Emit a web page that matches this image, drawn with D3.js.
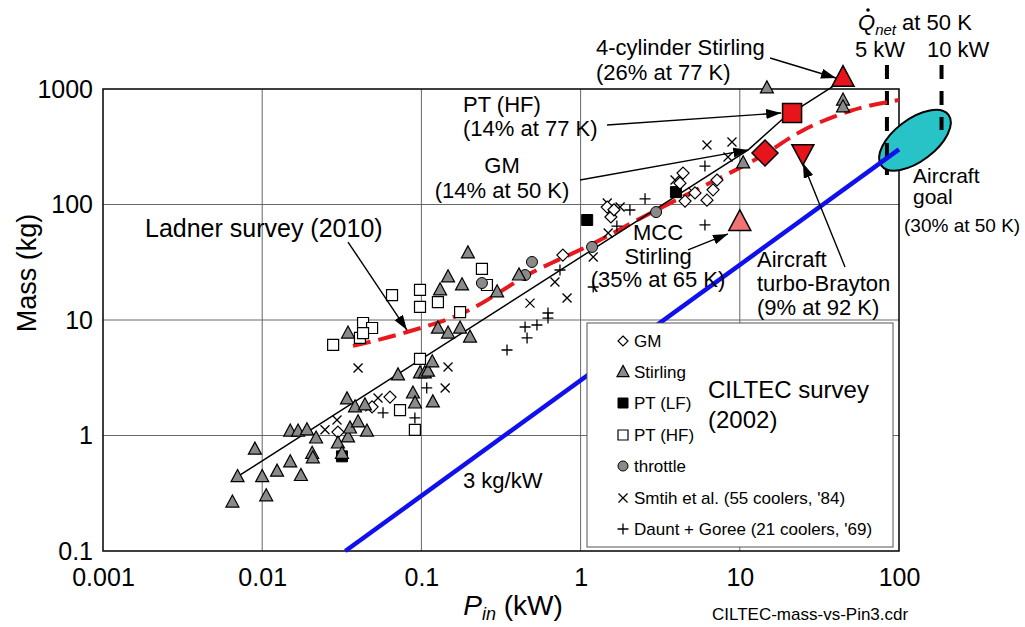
<!DOCTYPE html>
<html>
<head>
<meta charset="utf-8">
<script src="https://cdn.jsdelivr.net/npm/d3@7"></script>
<style>
body { margin: 0; background: #fff; }
svg { font-family: "Liberation Sans", Arial, sans-serif; }
</style>
</head>
<body>
<svg id="chart" width="1025" height="627"></svg>
<script>
// tick labels
var xTicks = [0.001, 0.01, 0.1, 1, 10, 100];
var yTicks = [0.1, 1, 10, 100, 1000];

// CILTEC survey (2002) points, [Pin kW, mass kg]
var gmPts = [[0.774,36.5],[1.47,95],[1.55,78],[1.62,90],[4.40,187],[4.21,153],[4.53,107],[5.23,126],
    [6.22,109],[6.79,134],[7.19,163],[0.0299,1.07],[0.049,1.77],[0.0635,2.15]];
var stirlingPts = [[0.0065,0.265],[0.0070,0.44],[0.0090,0.76],[0.0100,0.44],[0.0106,0.30],[0.0124,0.49],
    [0.0150,0.59],[0.0175,0.45],[0.0150,1.09],[0.0168,1.09],[0.0191,1.12],[0.0218,0.95],[0.0206,0.70],
    [0.0208,0.64],[0.0299,0.86],[0.0317,0.70],[0.0346,0.97],[0.0356,1.16],[0.0341,2.07],[0.0383,1.77],
    [0.0400,1.31],[0.0455,1.09],[0.0442,1.84],[0.0346,7.7],[0.0713,3.34],[0.0885,2.33],[0.0912,1.91],
    [0.098,3.48],[0.105,3.48],[0.110,3.6],[0.117,4.33],[0.118,1.95],[0.127,8.5],[0.147,7.7],[0.175,8.5],
    [0.202,7.1],[0.131,18.2],[0.147,23.6],[0.180,20.1],[0.196,38],[0.299,17.5],[0.410,24.5],
    [10.5,229],[14.8,1020],[44.5,800],[44.5,700]];
var ptLfPts = [[1.10,73.4],[3.97,128],[0.0317,0.66]];
var ptHfPts = [[0.0279,6.08],[0.0411,6.99],[0.0430,9.42],[0.0490,8.53],[0.0430,7.71],[0.0654,16.4],
    [0.098,18.2],[0.098,13.0],[0.127,14.3],[0.175,11.7],[0.098,4.6],[0.0734,1.66],[0.240,27.7],
    [0.258,20.1],[0.091,1.12]];
var throttlePts = [[0.495,31.8],[0.448,24.5],[0.240,20.9],[1.18,42.9],[2.98,86]];
var smithPts = [[0.040,3.84],[0.147,3.92],[0.141,2.58],[0.481,14.0],[0.822,15.5],[0.690,21.3],[1.20,35.1],
    [1.47,103],[1.49,56.7],[3.92,163],[5.08,128],[6.22,327],[8.93,348],[8.43,258],[0.0534,2.11],
    [0.0475,1.77],[0.0295,1.36],[0.0248,1.12],[1.77,95]];
var dauntPts = [[0.345,5.50],[0.461,6.99],[0.448,8.70],[0.532,9.05],[0.624,11.5],[0.624,10.4],[0.742,27.1],
    [1.20,19.3],[1.69,65.1],[2.04,89.6],[2.54,112],[6.04,215],[6.04,66.5],[0.091,1.42],[0.108,2.58],
    [0.0574,1.57]];

// highlighted machines
var fourCylPt = [[44.5,1250]];
var ptHfRedPt = [[21.3,620]];
var gmRedPt = [[14.4,279]];
var braytonPt = [[24.9,279]];
var mccPt = [[10.0,70.5]];

// lines
var trendX = [0.00695, 11.3, 19.2, 42.6];
var trendY = [0.438, 297, 572, 1150];
var ladnerX = [0.0372, 0.0812, 0.183, 0.502, 1.15, 2.47, 5.62, 14.0, 23.9, 49.2, 100];
var ladnerY = [5.96, 7.87, 11.5, 26.0, 44.6, 78, 139, 268, 425, 645, 803];
var goalX = [0.0333, 100];
var goalY = [0.1, 300];
var qnetX = [84, 185];
var qnetTop = [1615, 1615];
var qnetBottom = [180, 442];
var goalCenter = [126, 360];

// arrows [from, to]
var arrows = [
    [[0.0346,47.3],[0.0812,8.19]],
    [[15.5,1855],[40.2,1245]],
    [[1.466,488],[18.2,620]],
    [[0.991,163],[11.3,297]],
    [[4.73,40.4],[8.43,55.6]],
    [[45.8,28.8],[24.9,229]]
];

var legendItems = ["GM", "Stirling", "PT (LF)", "PT (HF)", "throttle",
    "Smtih et al. (55 coolers, '84)", "Daunt + Goree (21 coolers, '69)"];

var svg = d3.select("#chart");
var x = d3.scaleLog().domain([0.001, 100]).range([103, 899]);
var y = d3.scaleLog().domain([0.1, 1000]).range([551, 89]);

var defs = svg.append("defs");
defs.append("marker").attr("id", "arr")
    .attr("markerUnits", "userSpaceOnUse")
    .attr("markerWidth", 16).attr("markerHeight", 12)
    .attr("refX", 15).attr("refY", 5).attr("orient", "auto")
    .append("path").attr("d", "M0,0L15,5L0,10Z").attr("fill", "#000");

// grid
var grid = svg.append("g");
grid.selectAll("line.v").data(xTicks.slice(1, -1)).join("line")
    .attr("x1", d => x(d)).attr("x2", d => x(d))
    .attr("y1", y(0.1)).attr("y2", y(1000))
    .attr("stroke", "#666").attr("stroke-width", 1);
grid.selectAll("line.h").data(yTicks.slice(1, -1)).join("line")
    .attr("class", "h")
    .attr("x1", x(0.001)).attr("x2", x(100))
    .attr("y1", d => y(d)).attr("y2", d => y(d))
    .attr("stroke", "#666").attr("stroke-width", 1);

svg.append("rect")
    .attr("x", x(0.001)).attr("y", y(1000))
    .attr("width", x(100) - x(0.001)).attr("height", y(0.1) - y(1000))
    .attr("fill", "none").attr("stroke", "#000").attr("stroke-width", 1.5);

// axes
var xAxis = svg.append("g").attr("transform", "translate(0," + y(0.1) + ")")
    .call(d3.axisBottom(x).tickValues(xTicks).tickFormat(d => String(d)).tickSize(0).tickPadding(17));
var yAxis = svg.append("g").attr("transform", "translate(" + x(0.001) + ",0)")
    .call(d3.axisLeft(y).tickValues(yTicks).tickFormat(d => String(d)).tickSize(0).tickPadding(10));
[xAxis, yAxis].forEach(function(a) {
    a.select(".domain").remove();
    a.selectAll("text").attr("font-size", 25).attr("fill", "#000")
        .attr("font-family", "Liberation Sans, Arial, sans-serif");
});

svg.append("text").attr("transform", "translate(36,273) rotate(-90)")
    .attr("text-anchor", "middle").attr("font-size", 27).text("Mass (kg)");
var xl = svg.append("text").attr("x", 513).attr("y", 615).attr("text-anchor", "middle").attr("font-size", 28);
xl.append("tspan").attr("font-style", "italic").text("P");
xl.append("tspan").attr("font-style", "italic").attr("font-size", 18).attr("dy", 5).text("in");
xl.append("tspan").attr("dy", -5).text(" (kW)");

// goal ellipse
svg.append("ellipse")
    .attr("transform", "translate(" + x(goalCenter[0]) + "," + y(goalCenter[1]) + ") rotate(-37)")
    .attr("rx", 42).attr("ry", 21)
    .attr("fill", "#27c3c6").attr("stroke", "#000").attr("stroke-width", 2);

// Qnet lines
svg.selectAll("line.q").data(qnetX).join("line")
    .attr("x1", d => x(d)).attr("x2", d => x(d))
    .attr("y1", (d, i) => y(qnetTop[i])).attr("y2", (d, i) => y(qnetBottom[i]))
    .attr("stroke", "#000").attr("stroke-width", 4).attr("stroke-dasharray", "14,12");

// 3 kg/kW
var line = d3.line().x(d => x(d[0])).y(d => y(d[1]));
svg.append("path").datum(d3.zip(goalX, goalY)).attr("d", line)
    .attr("fill", "none").attr("stroke", "#1010ee").attr("stroke-width", 4.5);

// legend
var leg = svg.append("g");
leg.append("rect").attr("x", 587).attr("y", 323).attr("width", 306).attr("height", 224)
    .attr("fill", "#fff").attr("stroke", "#555").attr("stroke-width", 1);

function tri(w) { return "M0," + (-w * 0.55) + "L" + (w / 2) + "," + (w * 0.38) + "L" + (-w / 2) + "," + (w * 0.38) + "Z"; }
function triDown(w) { return "M0," + (w * 0.55) + "L" + (w / 2) + "," + (-w * 0.38) + "L" + (-w / 2) + "," + (-w * 0.38) + "Z"; }
function sq(s) { return "M" + (-s / 2) + "," + (-s / 2) + "h" + s + "v" + s + "h" + (-s) + "Z"; }
function dia(s) { return "M0," + (-s / 2) + "L" + (s / 2) + ",0L0," + (s / 2) + "L" + (-s / 2) + ",0Z"; }
function circ(r) { return "M" + r + ",0A" + r + "," + r + " 0 1,1 " + (-r) + ",0A" + r + "," + r + " 0 1,1 " + r + ",0Z"; }
function cross(s) { var h = s / 2; return "M" + (-h) + "," + (-h) + "L" + h + "," + h + "M" + (-h) + "," + h + "L" + h + "," + (-h); }
function plus(s) { var h = s / 2; return "M" + (-h) + ",0H" + h + "M0," + (-h) + "V" + h; }

var styles = [
    { d: dia(12), fill: "#fff", sw: 1.2 },
    { d: tri(13), fill: "#8a8a8a", sw: 1.2 },
    { d: sq(11), fill: "#000", sw: 1 },
    { d: sq(11), fill: "#fff", sw: 1.2 },
    { d: circ(5.5), fill: "#8a8a8a", sw: 1 },
    { d: cross(9), fill: "none", sw: 1.3 },
    { d: plus(11), fill: "none", sw: 1.3 }
];
var legRows = [341, 372, 403, 435, 466, 498, 529];
legendItems.forEach(function(name, i) {
    var st = styles[i];
    var lst = i < 5 ? { d: [dia(10), tri(12), sq(10), sq(10), circ(5)][i], fill: st.fill, sw: st.sw } : st;
    leg.append("path").attr("transform", "translate(623," + legRows[i] + ")")
        .attr("d", lst.d).attr("fill", lst.fill).attr("stroke", "#000").attr("stroke-width", lst.sw);
    leg.append("text").attr("x", 634).attr("y", legRows[i] + 6).attr("font-size", 17).text(name);
});
leg.append("text").attr("x", 708).attr("y", 398).attr("font-size", 24).text("CILTEC survey");
leg.append("text").attr("x", 708).attr("y", 428).attr("font-size", 24).text("(2002)");

// Ladner survey curve
svg.append("path").datum(d3.zip(ladnerX, ladnerY))
    .attr("d", d3.line().x(d => x(d[0])).y(d => y(d[1])).curve(d3.curveMonotoneX))
    .attr("fill", "none").attr("stroke", "#e8191e").attr("stroke-width", 4)
    .attr("stroke-dasharray", "18,8");

// black trend
svg.append("path").datum(d3.zip(trendX, trendY)).attr("d", line)
    .attr("fill", "none").attr("stroke", "#000").attr("stroke-width", 1.5);

// points
function drawPts(data, st) {
    svg.append("g").selectAll("path").data(data).join("path")
        .attr("transform", d => "translate(" + x(d[0]) + "," + y(d[1]) + ")")
        .attr("d", st.d).attr("fill", st.fill).attr("stroke", "#000").attr("stroke-width", st.sw);
}
drawPts(dauntPts, styles[6]);
drawPts(smithPts, styles[5]);
drawPts(ptHfPts, styles[3]);
drawPts(ptLfPts, styles[2]);
drawPts(throttlePts, styles[4]);
drawPts(gmPts, styles[0]);
drawPts(stirlingPts, styles[1]);

// arrows
svg.append("g").selectAll("line").data(arrows).join("line")
    .attr("x1", d => x(d[0][0])).attr("y1", d => y(d[0][1]))
    .attr("x2", d => x(d[1][0])).attr("y2", d => y(d[1][1]))
    .attr("stroke", "#000").attr("stroke-width", 1.4).attr("marker-end", "url(#arr)");

drawPts(gmRedPt, { d: dia(26), fill: "#e8141b", sw: 1.5 });
drawPts(ptHfRedPt, { d: sq(19), fill: "#e8141b", sw: 1.5 });
drawPts(braytonPt, { d: triDown(22), fill: "#e8141b", sw: 1.5 });
drawPts(fourCylPt, { d: tri(22), fill: "#e8141b", sw: 1.5 });
drawPts(mccPt, { d: tri(22), fill: "#f07474", sw: 1.5 });

// annotations
function label(xp, yp, lines, size, anchor, gap) {
    var t = svg.append("text").attr("font-size", size).attr("text-anchor", anchor || "start");
    lines.forEach(function(s, i) {
        t.append("tspan").attr("x", xp).attr("y", yp + i * gap).text(s);
    });
}
label(145, 237, ["Ladner survey (2010)"], 25, "start", 0);
label(463, 112, ["PT (HF)", "(14% at 77 K)"], 22, "start", 24);
label(502, 173, ["GM", "(14% at 50 K)"], 22, "middle", 25);
label(596, 55, ["4-cylinder Stirling", "(26% at 77 K)"], 22, "start", 25);
label(658, 240, ["MCC", "Stirling", "(35% at 65 K)"], 22, "middle", 23.5);
label(757, 267, ["Aircraft", "turbo-Brayton", "(9% at 92 K)"], 22, "start", 24);
label(913, 183, ["Aircraft", "goal"], 21, "start", 21);
label(904, 232, ["(30% at 50 K)"], 19, "start", 0);
label(463, 488, ["3 kg/kW"], 22, "start", 0);
label(712, 620, ["CILTEC-mass-vs-Pin3.cdr"], 17, "start", 0);
label(855, 57, ["5 kW"], 22, "start", 0);
label(927, 57, ["10 kW"], 22, "start", 0);

var q = svg.append("text").attr("x", 858).attr("y", 30).attr("font-size", 22);
q.append("tspan").attr("font-style", "italic").text("Q");
q.append("tspan").attr("font-style", "italic").attr("font-size", 15).attr("dy", 5).text("net");
q.append("tspan").attr("dy", -5).text(" at 50 K");
svg.append("circle").attr("cx", 868).attr("cy", 10).attr("r", 1.8).attr("fill", "#000");
</script>
</body>
</html>
